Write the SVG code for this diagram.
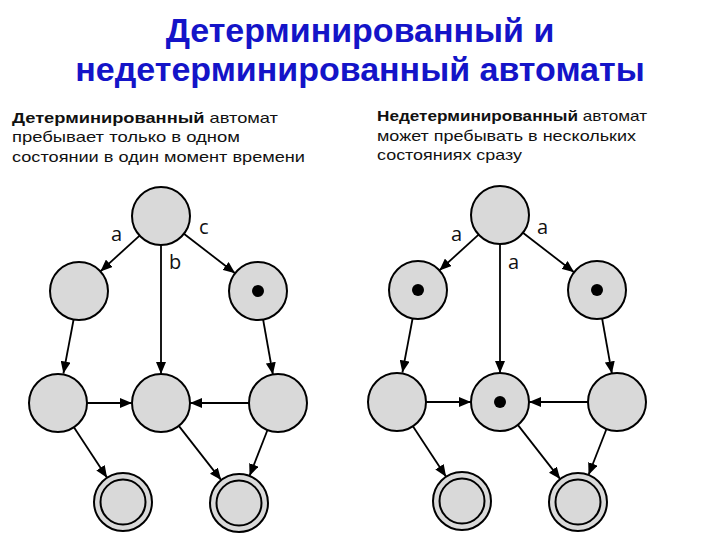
<svg xmlns="http://www.w3.org/2000/svg" width="720" height="540" viewBox="0 0 720 540">
<style>
.title{font-family:"Liberation Sans",Arial,sans-serif;font-weight:bold;font-size:34px;fill:#1414c8;text-anchor:middle}
.sub{font-family:"Liberation Sans",Arial,sans-serif;font-size:15px;fill:#111}
.b{font-weight:bold}
.st{fill:#d9d9d9;stroke:#000;stroke-width:2}
.dot{fill:#000}
.edge{stroke:#000;stroke-width:1.8;fill:none;marker-end:url(#arr)}
.lbl{font-family:"Open Sans","DejaVu Sans",sans-serif;font-size:20px;fill:#111}
</style>
<defs>
<marker id="arr" markerUnits="userSpaceOnUse" markerWidth="12" markerHeight="10" refX="12" refY="5" orient="auto">
<path d="M0,0 L12,5 L0,10 z" fill="#000"/>
</marker>
</defs>
<rect width="720" height="540" fill="#fff"/>
<g id="title">
<text class="title" x="360" y="42">Детерминированный и</text>
<text class="title" x="360" y="81">недетерминированный автоматы</text>
</g>
<g id="desc-left">
<text class="sub" x="12" y="123" textLength="266" lengthAdjust="spacingAndGlyphs"><tspan class="b">Детерминированный</tspan> автомат</text>
<text class="sub" x="12" y="142" textLength="228" lengthAdjust="spacingAndGlyphs">пребывает только в одном</text>
<text class="sub" x="12" y="162" textLength="293" lengthAdjust="spacingAndGlyphs">состоянии в один момент времени</text>
</g>
<g id="desc-right">
<text class="sub" x="377" y="121" textLength="270" lengthAdjust="spacingAndGlyphs"><tspan class="b">Недетерминированный</tspan> автомат</text>
<text class="sub" x="377" y="141" textLength="259" lengthAdjust="spacingAndGlyphs">может пребывать в нескольких</text>
<text class="sub" x="377" y="160" textLength="145" lengthAdjust="spacingAndGlyphs">состояниях сразу</text>
</g>

<g id="dfa">
<g id="dfa-connectors">
<line class="edge" x1="139.6" y1="235.6" x2="100.4" y2="271.4"/>
<line class="edge" x1="161" y1="245" x2="161" y2="374"/>
<line class="edge" x1="183.9" y1="233.7" x2="235.1" y2="273.3"/>
<line class="edge" x1="73.6" y1="319.5" x2="63.4" y2="373.5"/>
<line class="edge" x1="263.1" y1="319.5" x2="272.9" y2="374.5"/>
<line class="edge" x1="87" y1="403" x2="132" y2="403"/>
<line class="edge" x1="249" y1="403" x2="190" y2="403"/>
<line class="edge" x1="73.9" y1="427.2" x2="107.1" y2="477.8"/>
<line class="edge" x1="178.8" y1="425.9" x2="221.2" y2="480.1"/>
<line class="edge" x1="267.5" y1="430" x2="249.5" y2="476"/>
<text class="lbl" x="111" y="241">a</text>
<text class="lbl" x="199" y="234">c</text>
<text class="lbl" x="169" y="269">b</text>
</g>
<g id="dfa-s0"><circle class="st" cx="161" cy="216" r="29"/></g>
<g id="dfa-s1"><circle class="st" cx="79" cy="291" r="29"/></g>
<g id="dfa-s2"><circle class="st" cx="258" cy="291" r="29"/><circle class="dot" cx="258" cy="291" r="6"/></g>
<g id="dfa-s3"><circle class="st" cx="58" cy="403" r="29"/></g>
<g id="dfa-s4"><circle class="st" cx="161" cy="403" r="29"/></g>
<g id="dfa-s5"><circle class="st" cx="278" cy="403" r="29"/></g>
<g id="dfa-f1"><circle class="st" cx="123" cy="502" r="29"/><circle class="st" cx="123" cy="502" r="22.5"/></g>
<g id="dfa-f2"><circle class="st" cx="239" cy="503" r="29"/><circle class="st" cx="239" cy="503" r="22.5"/></g>
</g>

<g id="nfa" transform="translate(339,-1)">
<g id="nfa-connectors">
<line class="edge" x1="139.6" y1="235.6" x2="100.4" y2="271.4"/>
<line class="edge" x1="161" y1="245" x2="161" y2="374"/>
<line class="edge" x1="183.9" y1="233.7" x2="235.1" y2="273.3"/>
<line class="edge" x1="73.6" y1="319.5" x2="63.4" y2="373.5"/>
<line class="edge" x1="263.1" y1="319.5" x2="272.9" y2="374.5"/>
<line class="edge" x1="87" y1="403" x2="132" y2="403"/>
<line class="edge" x1="249" y1="403" x2="190" y2="403"/>
<line class="edge" x1="73.9" y1="427.2" x2="107.1" y2="477.8"/>
<line class="edge" x1="178.8" y1="425.9" x2="221.2" y2="480.1"/>
<line class="edge" x1="267.5" y1="430" x2="249.5" y2="476"/>
<text class="lbl" x="112" y="242">a</text>
<text class="lbl" x="198" y="235">a</text>
<text class="lbl" x="169" y="270">a</text>
</g>
<g id="nfa-s0"><circle class="st" cx="161" cy="216" r="29"/></g>
<g id="nfa-s1"><circle class="st" cx="79" cy="291" r="29"/><circle class="dot" cx="79" cy="291" r="6"/></g>
<g id="nfa-s2"><circle class="st" cx="258" cy="291" r="29"/><circle class="dot" cx="258" cy="291" r="6"/></g>
<g id="nfa-s3"><circle class="st" cx="58" cy="403" r="29"/></g>
<g id="nfa-s4"><circle class="st" cx="161" cy="403" r="29"/><circle class="dot" cx="161" cy="403" r="6"/></g>
<g id="nfa-s5"><circle class="st" cx="278" cy="403" r="29"/></g>
<g id="nfa-f1"><circle class="st" cx="123" cy="502" r="29"/><circle class="st" cx="123" cy="502" r="22.5"/></g>
<g id="nfa-f2"><circle class="st" cx="239" cy="503" r="29"/><circle class="st" cx="239" cy="503" r="22.5"/></g>
</g>
</svg>
